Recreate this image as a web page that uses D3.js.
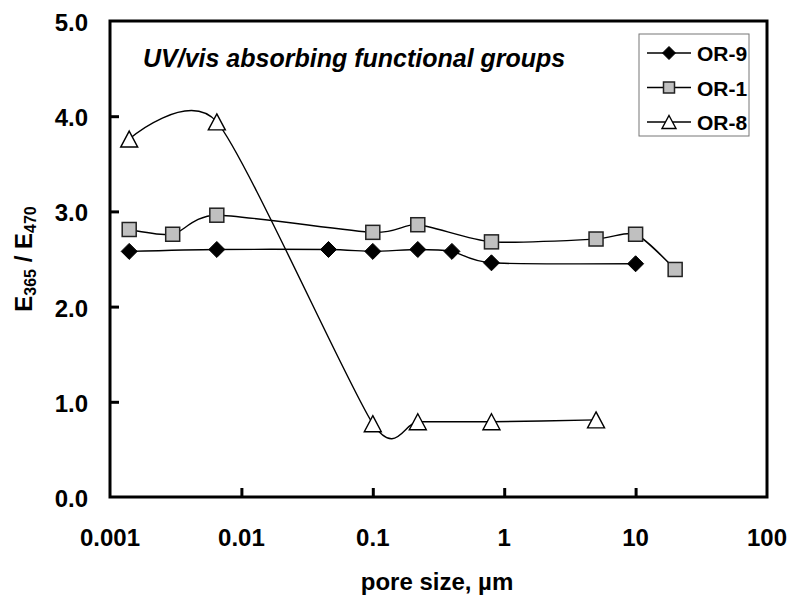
<!DOCTYPE html>
<html>
<head>
<meta charset="utf-8">
<script src="https://cdn.jsdelivr.net/npm/d3@7"></script>
<style>
  body { margin: 0; background: #fff; }
  svg text { font-family: "Liberation Sans", Arial, sans-serif; font-weight: bold; fill: #000; }
</style>
</head>
<body>
<svg id="chart" width="794" height="604"></svg>
<script>
// pore sizes (um) and E365/E470 values
var poreOR9 = [0.0014, 0.0065, 0.046, 0.1, 0.22, 0.4, 0.8, 10];
var ratioOR9 = [2.58, 2.60, 2.60, 2.58, 2.60, 2.58, 2.46, 2.45];

var poreOR1 = [0.0014, 0.003, 0.0065, 0.1, 0.22, 0.8, 5, 10, 20];
var ratioOR1 = [2.81, 2.76, 2.96, 2.78, 2.86, 2.68, 2.71, 2.76, 2.39];

var poreOR8 = [0.0014, 0.0065, 0.1, 0.22, 0.8, 5];
var ratioOR8 = [3.76, 3.94, 0.77, 0.79, 0.79, 0.81];

var seriesNames = ["OR-9", "OR-1", "OR-8"];
var xTicks = [0.001, 0.01, 0.1, 1, 10, 100];
var yTicks = [0, 1, 2, 3, 4, 5];

var svg = d3.select("#chart");

// plot box
var plotL = 110, plotR = 767, plotT = 21, plotB = 497;

var x = d3.scaleLog().domain([0.001, 100]).range([plotL, plotR]);
var y = d3.scaleLinear().domain([0, 5]).range([plotB, plotT]);

// frame
svg.append("rect")
    .attr("x", plotL).attr("y", plotT)
    .attr("width", plotR - plotL).attr("height", plotB - plotT)
    .attr("fill", "none").attr("stroke", "#000").attr("stroke-width", 3);

// inward ticks, labels drawn separately below
var xAxis = d3.axisBottom(x).tickValues(xTicks.slice(1, -1)).tickSize(-9).tickFormat("");
svg.append("g").attr("transform", "translate(0," + plotB + ")").call(xAxis)
    .call(function (g) {
        g.select(".domain").remove();
        g.selectAll("line").attr("stroke-width", 3);
    });

var yAxis = d3.axisLeft(y).tickValues(yTicks.slice(1, -1)).tickSize(-9).tickFormat("");
svg.append("g").attr("transform", "translate(" + plotL + ",0)").call(yAxis)
    .call(function (g) {
        g.select(".domain").remove();
        g.selectAll("line").attr("stroke-width", 3);
    });

// tick labels
svg.append("g").selectAll("text").data(xTicks).enter().append("text")
    .attr("x", function (d) { return x(d); })
    .attr("y", plotB + 49)
    .attr("text-anchor", "middle")
    .attr("font-size", 24)
    .text(function (d) { return String(d); });

svg.append("g").selectAll("text").data(yTicks).enter().append("text")
    .attr("x", plotL - 22)
    .attr("y", function (d) { return y(d) + 10; })
    .attr("text-anchor", "end")
    .attr("font-size", 24)
    .text(function (d) { return d3.format(".1f")(d); });

// axis titles
svg.append("text")
    .attr("x", 437).attr("y", 590)
    .attr("text-anchor", "middle")
    .attr("font-size", 24)
    .text("pore size, µm");

var yt = svg.append("text")
    .attr("transform", "translate(32," + ((plotT + plotB) / 2) + ") rotate(-90)")
    .attr("text-anchor", "middle")
    .attr("font-size", 24);
yt.append("tspan").text("E");
yt.append("tspan").attr("font-size", 16).attr("dy", 4).text("365");
yt.append("tspan").attr("dy", -4).text(" / E");
yt.append("tspan").attr("font-size", 16).attr("dy", 4).text("470");

// in-plot title
svg.append("text")
    .attr("x", 143).attr("y", 67)
    .attr("font-size", 25)
    .attr("font-style", "italic")
    .text("UV/vis absorbing functional groups");

// series (smoothed like the spreadsheet lines)
var line = d3.line()
    .x(function (d) { return x(d[0]); })
    .y(function (d) { return y(d[1]); })
    .curve(d3.curveCardinal.tension(0.3));

var dataOR9 = d3.zip(poreOR9, ratioOR9);
var dataOR1 = d3.zip(poreOR1, ratioOR1);
var dataOR8 = d3.zip(poreOR8, ratioOR8);

[dataOR9, dataOR1, dataOR8].forEach(function (d) {
    svg.append("path").datum(d)
        .attr("d", line)
        .attr("fill", "none")
        .attr("stroke", "#000")
        .attr("stroke-width", 1.4);
});

// marker painters
function diamond(g, s) {
    return g.append("path")
        .attr("d", "M0," + (-s) + "L" + s + ",0L0," + s + "L" + (-s) + ",0Z")
        .attr("fill", "#000").attr("stroke", "#000");
}
function square(g, s) {
    return g.append("rect")
        .attr("x", -s).attr("y", -s).attr("width", 2 * s).attr("height", 2 * s)
        .attr("fill", "#c0c0c0").attr("stroke", "#222").attr("stroke-width", 1.5);
}
function triangle(g, s) {
    return g.append("path")
        .attr("d", "M0," + (-s) + "L" + (s + 0.5) + "," + s + "L" + (-s - 0.5) + "," + s + "Z")
        .attr("fill", "#fff").attr("stroke", "#000").attr("stroke-width", 1.4);
}

var markers = [diamond, square, triangle];

function drawMarkers(data, painter, s) {
    data.forEach(function (d) {
        var g = svg.append("g").attr("transform", "translate(" + x(d[0]) + "," + y(d[1]) + ")");
        painter(g, s);
    });
}
drawMarkers(dataOR9, diamond, 8);
drawMarkers(dataOR1, square, 7);
drawMarkers(dataOR8, triangle, 8);

// legend
var leg = svg.append("g").attr("transform", "translate(639,34)");
leg.append("rect")
    .attr("width", 110).attr("height", 102)
    .attr("fill", "#fff").attr("stroke", "#777").attr("stroke-width", 1);

seriesNames.forEach(function (name, i) {
    var cy = 19 + i * 34.5;
    leg.append("line")
        .attr("x1", 8).attr("x2", 52).attr("y1", cy).attr("y2", cy)
        .attr("stroke", "#000").attr("stroke-width", 1.4);
    var g = leg.append("g").attr("transform", "translate(30," + cy + ")");
    markers[i](g, i == 1 ? 5.5 : 6.5);
    leg.append("text")
        .attr("x", 58).attr("y", cy + 8)
        .attr("font-size", 21)
        .text(name);
});
</script>
</body>
</html>
